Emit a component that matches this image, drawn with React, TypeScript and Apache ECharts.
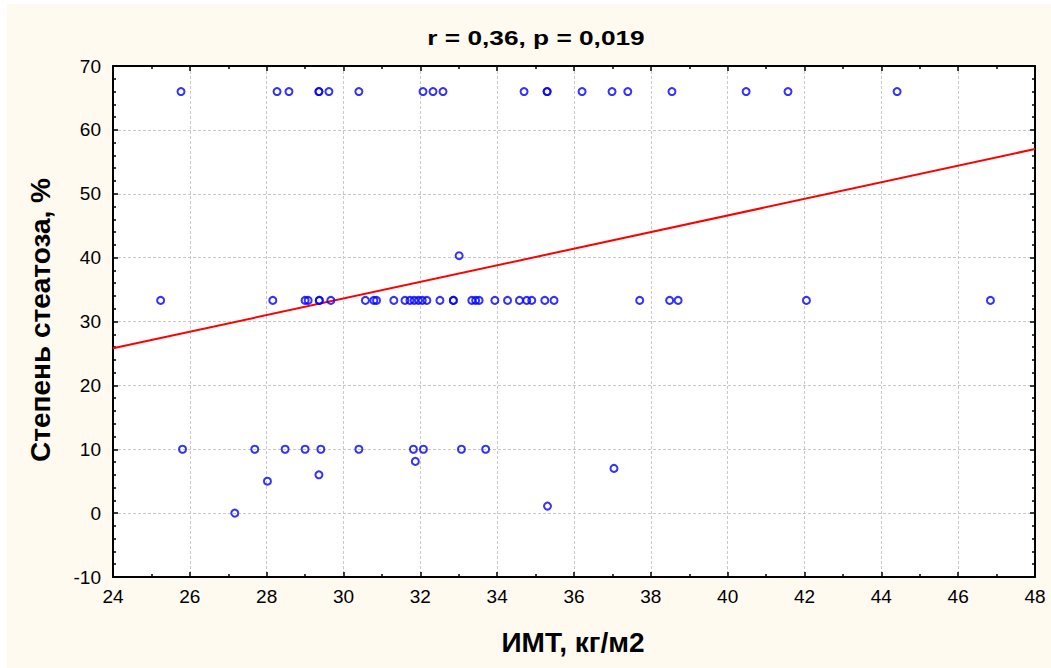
import React, { useEffect, useRef } from "react";
import * as echarts from "echarts";

// BMI values (x) for each steatosis level row
const bmiAt66 = [25.77, 28.27, 28.58, 29.36, 29.36, 29.62, 30.4, 32.07, 32.33, 32.59, 34.7, 35.3, 35.3, 36.21, 36.99, 37.4, 38.55, 40.48, 41.57, 44.41];
const bmiAt33 = [25.24, 28.16, 29.0, 29.08, 29.37, 29.37, 29.67, 30.57, 30.79, 30.86, 31.31, 31.6, 31.73, 31.84, 31.95, 32.05, 32.17, 32.51, 32.86, 32.86, 33.34, 33.44, 33.53, 33.94, 34.27, 34.58, 34.77, 34.9, 35.24, 35.48, 37.71, 38.49, 38.71, 42.05, 46.84];
const bmiAt10 = [25.81, 27.69, 28.48, 29.0, 29.41, 30.4, 31.82, 32.08, 33.07, 33.7];
const bmiOther = [31.87, 28.02, 29.36, 27.17, 35.31, 37.04, 33.01];
const steatOther = [8.1, 5.0, 6.0, 0.0, 1.1, 7.0, 40.3];
const levels = [66, 33.3, 10];

// Regression line endpoints
const fitX = [24, 48];
const fitY = [25.8, 57.0];

const titleText = "r = 0,36, p = 0,019";
const xTitle = "ИМТ, кг/м2";
const yTitle = "Степень стеатоза, %";

export default function App() {
  const ref = useRef<HTMLDivElement>(null);
  useEffect(() => {
    document.body.style.margin = "0";
    const chart = echarts.init(ref.current!, null, { renderer: "svg" });
    const pts: number[][] = [];
    bmiAt66.forEach((x) => pts.push([x, levels[0]]));
    bmiAt33.forEach((x) => pts.push([x, levels[1]]));
    bmiAt10.forEach((x) => pts.push([x, levels[2]]));
    bmiOther.forEach((x, i) => pts.push([x, steatOther[i]]));

    const font = "Arial, 'Liberation Sans', sans-serif";
    const axisCommon = {
      min: 24,
      max: 48,
      interval: 2,
    };
    const lineStyle = { color: "#000", width: 2 };
    chart.setOption({
      animation: false,
      backgroundColor: "#fffaf0",
      grid: {
        left: 106,
        top: 62,
        right: 16,
        bottom: 91,
        containLabel: false,
        show: true,
        backgroundColor: "#ffffff",
        borderWidth: 0,
      },
      xAxis: [
        {
          type: "value",
          ...axisCommon,
          position: "bottom",
          axisLine: { show: true, onZero: false, lineStyle },
          axisTick: { show: true, inside: true, length: 5, lineStyle: { color: "#000", width: 1.5 } },
          minorTick: { show: true, splitNumber: 2, length: 3, lineStyle: { color: "#000", width: 1.5 } },
          axisLabel: { color: "#000", fontSize: 19, fontFamily: font, margin: 10 },
          splitLine: { show: true, lineStyle: { color: "#c8c8c8", type: [3, 2], width: 1 } },
        },
        {
          type: "value",
          ...axisCommon,
          position: "top",
          axisLine: { show: true, onZero: false, lineStyle },
          axisTick: { show: true, inside: true, length: 5, lineStyle: { color: "#000", width: 1.5 } },
          minorTick: { show: true, splitNumber: 2, length: 3, lineStyle: { color: "#000", width: 1.5 } },
          axisLabel: { show: false },
          splitLine: { show: false },
        },
      ],
      yAxis: [
        {
          type: "value",
          min: -10,
          max: 70,
          interval: 10,
          position: "left",
          axisLine: { show: true, onZero: false, lineStyle },
          axisTick: { show: true, inside: true, length: 5, lineStyle: { color: "#000", width: 1.5 } },
          minorTick: { show: true, splitNumber: 5, length: 3, lineStyle: { color: "#000", width: 1.5 } },
          axisLabel: { color: "#000", fontSize: 19, fontFamily: font, margin: 12 },
          splitLine: { show: true, lineStyle: { color: "#c8c8c8", type: [3, 2], width: 1 } },
        },
        {
          type: "value",
          min: -10,
          max: 70,
          interval: 10,
          position: "right",
          axisLine: { show: true, onZero: false, lineStyle },
          axisTick: { show: true, inside: true, length: 5, lineStyle: { color: "#000", width: 1.5 } },
          minorTick: { show: true, splitNumber: 5, length: 3, lineStyle: { color: "#000", width: 1.5 } },
          axisLabel: { show: false },
          splitLine: { show: false },
        },
      ],
      graphic: [
        {
          type: "text",
          x: 529,
          y: 33,
          scaleX: 1.25,
          style: {
            text: titleText,
            font: `bold 21px ${font}`,
            fill: "#000",
            align: "center",
            verticalAlign: "middle",
          },
        },
        {
          type: "text",
          x: 566,
          y: 638,
          style: {
            text: xTitle,
            font: `bold 28px ${font}`,
            fill: "#000",
            align: "center",
            verticalAlign: "middle",
          },
        },
        {
          type: "text",
          x: 33,
          y: 316,
          rotation: Math.PI / 2,
          style: {
            text: yTitle,
            font: `bold 28px ${font}`,
            fill: "#000",
            align: "center",
            verticalAlign: "middle",
          },
        },
      ],
      series: [
        {
          type: "line",
          xAxisIndex: 0,
          yAxisIndex: 0,
          data: fitX.map((x, i) => [x, fitY[i]]),
          showSymbol: false,
          symbol: "none",
          lineStyle: { color: "#ff0000", width: 2 },
          z: 3,
        },
        {
          type: "scatter",
          xAxisIndex: 0,
          yAxisIndex: 0,
          data: pts,
          symbol: "circle",
          symbolSize: 7,
          itemStyle: { color: "rgba(0,0,0,0)", borderColor: "#0000ff", borderWidth: 2 },
          z: 4,
        },
      ],
    });
    return () => chart.dispose();
  }, []);
  return (
    <div style={{ width: 1051, height: 668, background: "#ffffff", paddingLeft: 7, paddingTop: 4, boxSizing: "border-box" }}>
      <div ref={ref} style={{ width: 1044, height: 664 }} />
    </div>
  );
}
